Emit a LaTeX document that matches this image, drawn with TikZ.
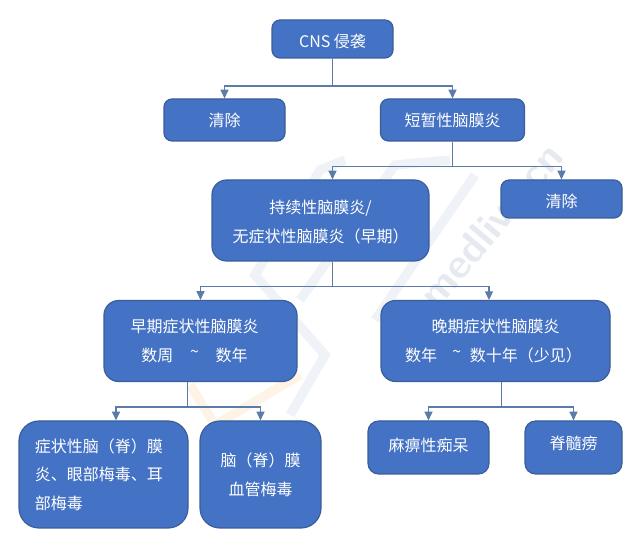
\documentclass[tikz,border=0pt]{standalone}
\usepackage{fontspec}
\usepackage{tikz}
\usetikzlibrary{arrows.meta, positioning}
\newfontfamily\cjk{Noto Sans CJK SC}
\definecolor{boxblue}{HTML}{4472C4}
\definecolor{boxline}{HTML}{3B5E9A}
\definecolor{linkblue}{HTML}{5B7BA8}
\definecolor{wmblue}{HTML}{EFF2F7}
\definecolor{wmgrey}{HTML}{E6E9EF}
\definecolor{wmorange}{HTML}{FDF4E7}
\newcommand{\tildeup}{\raisebox{3pt}{\textasciitilde}}
\newcommand{\topstrut}{\rule{0pt}{12pt}}
\tikzset{
  stepbox/.style={rectangle, draw=boxline, fill=boxblue, line width=0.9pt,
                  rounded corners=6pt, text=white, align=center,
                  inner sep=0pt, font=\cjk\fontsize{12pt}{21.5pt}\selectfont},
  bigbox/.style={stepbox, rounded corners=11pt},
  roundbox/.style={stepbox, rounded corners=15pt},
  midbox/.style={stepbox, rounded corners=8pt},
  lowA/.style={text height=10.5pt, text depth=0pt},
  lowB/.style={text height=13pt, text depth=0pt},
  highA/.style={text height=8pt, text depth=2pt},
  highB/.style={text height=8pt, text depth=5pt},
  link/.style={draw=linkblue, line width=0.9pt},
  linkA/.style={link, -{Triangle[length=6.5pt,width=6pt]}},
  wmband/.style={draw=wmblue, line width=7pt},
  wmwarm/.style={draw=wmorange, line width=7pt},
}
\begin{document}
\begin{tikzpicture}[x=0.75pt, y=-0.75pt]
    \useasboundingbox (0,0) rectangle (640,545);
    % watermark
    \draw[wmband] (345,160) -- (320,170) -- (255,275) -- (325,355) -- (290,415);
    \draw[wmband] (300,300) -- (395,165) -- (450,160);
    \draw[wmband] (375,320) -- (475,175);
    \draw[wmwarm] (190,385) -- (215,425) -- (300,375);
    \node[rotate=50, text=wmgrey, font=\sffamily\bfseries\fontsize{31pt}{31pt}\selectfont] (wm) at (491,225) {medlive.cn};
    % boxes
    \node[stepbox, lowB, minimum width=90.75pt, minimum height=28.5pt] (cns) at (332.5,39) {CNS 侵袭};
    \node[stepbox, lowA, minimum width=90.75pt, minimum height=31.5pt] (clearA) at (224.5,120) {清除};
    \node[stepbox, lowA, minimum width=108pt, minimum height=31.5pt] (brief) at (452.5,120) {短暂性脑膜炎};
    \node[bigbox, minimum width=162.75pt, minimum height=60.75pt] (lasting) at (320.5,220.5) {\topstrut 持续性脑膜炎/\\无症状性脑膜炎（早期）};
    \node[stepbox, lowB, minimum width=90.75pt, minimum height=28.5pt] (clearB) at (561.5,199) {清除};
    \node[bigbox, minimum width=144.75pt, minimum height=60.75pt] (early) at (200.5,341) {早期症状性脑膜炎\hspace*{9pt}\\数周\hspace{1.05em}\tildeup\hspace{1.05em}数年\hspace*{9pt}};
    \node[bigbox, minimum width=171.75pt, minimum height=60.75pt] (late) at (495.5,341) {晚期症状性脑膜炎\\数年\hspace{0.95em}\tildeup\hspace{0.55em}数十年（少见）\hspace*{3pt}};
    \node[roundbox, align=left, minimum width=126.75pt, minimum height=80.25pt] (sympt) at (103.5,474.5) {症状性脑（脊）膜\hspace*{6.75pt}\\炎、眼部梅毒、耳\\部梅毒};
    \node[roundbox, minimum width=90.75pt, minimum height=80.25pt] (vasc) at (260.5,474.5) {脑（脊）膜\\血管梅毒};
    \node[midbox, highA, minimum width=90.75pt, minimum height=39.75pt] (paresis) at (428.5,447.5) {麻痹性痴呆};
    \node[midbox, highB, minimum width=72.75pt, minimum height=39.75pt] (tabes) at (573.5,447.5) {脊髓痨};
    % joints
    \coordinate (j1) at (332.5,86);
    \coordinate (j2) at (452.5,166.5);
    \coordinate (j3) at (332.5,286.5);
    \coordinate (j4) at (187.7,407);
    \coordinate (j5) at (501.5,407);
    \coordinate (t3) at (489,300);
    \coordinate (t4) at (116,421);
    % connectors
    \draw[link] (cns.south) -- (j1);
    \draw[linkA] (j1) -| (clearA.north);
    \draw[linkA] (j1) -| (brief.north);
    \draw[link] (brief.south) -- (j2);
    \draw[linkA] (j2) -| (lasting.north -| j3);
    \draw[linkA] (j2) -| (clearB.north);
    \draw[link] (lasting.south -| j3) -- (j3);
    \draw[linkA] (j3) -| (early.north);
    \draw[linkA] (j3) -| (t3);
    \draw[link] (early.south -| j4) -- (j4);
    \draw[linkA] (j4) -| (sympt.north -| t4);
    \draw[linkA] (j4) -| (vasc.north);
    \draw[link] (late.south -| j5) -- (j5);
    \draw[linkA] (j5) -| (paresis.north);
    \draw[linkA] (j5) -| (tabes.north);
\end{tikzpicture}
\end{document}
